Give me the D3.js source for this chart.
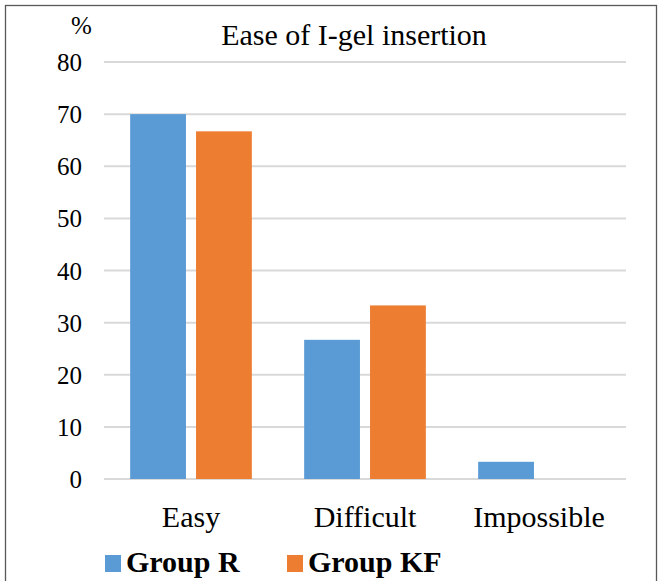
<!DOCTYPE html>
<html><head><meta charset="utf-8">
<script src="https://cdn.jsdelivr.net/npm/d3@7"></script>
</head>
<body style="margin:0;padding:0;background:#fff">
<svg id="chart" width="662" height="581" style="display:block"></svg>
<script>
const categories = ["Easy", "Difficult", "Impossible"];
const seriesNames = ["Group R", "Group KF"];
const groupR = [70, 26.7, 3.3];
const groupKF = [66.7, 33.3, 0];
const yTicks = [0, 10, 20, 30, 40, 50, 60, 70, 80];
const colors = ["#5B9BD5", "#ED7D31"];
const FONT = '"Liberation Serif"';

const svg = d3.select("#chart");
svg.append("rect").attr("x", 5.5).attr("y", 5.5).attr("width", 651).attr("height", 600)
  .attr("fill", "none").attr("stroke", "#595959").attr("stroke-width", 1.3);

const x0 = d3.scaleBand().domain(categories).range([104, 626]);
const x1 = d3.scaleBand().domain(seriesNames).range([0, x0.bandwidth()]).paddingInner(0.153).paddingOuter(0.397);
const y = d3.scaleLinear().domain([0, 80]).range([479, 62]);

svg.append("g").selectAll("line").data(yTicks).join("line")
  .attr("x1", 104).attr("x2", 626)
  .attr("y1", d => y(d)).attr("y2", d => y(d))
  .attr("stroke", "#D9D9D9").attr("stroke-width", 2);

const yAxis = d3.axisLeft(y).tickValues(yTicks).tickSize(0).tickPadding(0);
const ya = svg.append("g").attr("transform", "translate(82,0)").call(yAxis)
  .attr("font-family", null).attr("font-size", null);
ya.select(".domain").remove();
ya.selectAll("text").style("font-family", FONT).attr("font-size", 25).attr("fill", "#000").attr("dy", "0.34em");

const data = categories.map((c, i) => ({cat: c, vals: [groupR[i], groupKF[i]]}));
const groups = svg.append("g").selectAll("g").data(data).join("g")
  .attr("transform", d => `translate(${x0(d.cat)},0)`);
groups.selectAll("rect").data(d => d.vals.map((v, j) => ({s: seriesNames[j], v, j})))
  .join("rect")
  .attr("x", d => x1(d.s)).attr("width", x1.bandwidth())
  .attr("y", d => y(d.v)).attr("height", d => y(0) - y(d.v))
  .attr("fill", d => colors[d.j]);

const xAxis = d3.axisBottom(x0).tickSize(0).tickPadding(0);
const xa = svg.append("g").attr("transform", "translate(0,527)").call(xAxis)
  .attr("font-family", null).attr("font-size", null);
xa.select(".domain").remove();
xa.selectAll("text").style("font-family", FONT).attr("font-size", 30).attr("fill", "#000").attr("dy", 0);

svg.append("text").attr("x", 354).attr("y", 45).attr("text-anchor", "middle")
  .style("font-family", FONT).attr("font-size", 30).attr("fill", "#000").text("Ease of I-gel insertion");
svg.append("text").attr("x", 81.5).attr("y", 34).attr("text-anchor", "middle")
  .style("font-family", FONT).attr("font-size", 25).attr("fill", "#000").text("%");

const legX = [105, 287];
const leg = svg.append("g").selectAll("g").data(seriesNames).join("g")
  .attr("transform", (d, i) => `translate(${legX[i]},0)`);
leg.append("rect").attr("x", 0).attr("y", 555).attr("width", 16).attr("height", 17)
  .attr("fill", (d, i) => colors[i]);
leg.append("text").attr("x", 21).attr("y", 572)
  .style("font-family", FONT).attr("font-size", 30).attr("font-weight", "bold")
  .attr("fill", "#000").text(d => d);
</script>
</body></html>
